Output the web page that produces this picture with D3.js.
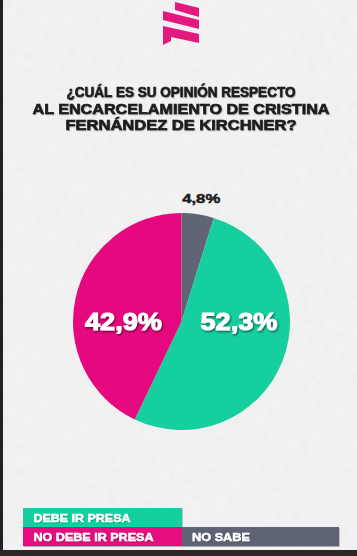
<!DOCTYPE html>
<html><head><meta charset="utf-8">
<script src="https://cdn.jsdelivr.net/npm/d3@7"></script>
<style>body{margin:0;background:#f1f1f1}svg{display:block}</style>
</head><body>
<script>
const categories = ["NO SABE", "DEBE IR PRESA", "NO DEBE IR PRESA"];
const values = [4.8, 52.3, 42.9];
const labels = ["4,8%", "52,3%", "42,9%"];
const colors = ["#5f6476", "#16cf9f", "#e6087f"];
const titleLines = ["¿CUÁL ES SU OPINIÓN RESPECTO", "AL ENCARCELAMIENTO DE CRISTINA", "FERNÁNDEZ DE KIRCHNER?"];

const W = 357, H = 556;
const svg = d3.select("body").append("svg").attr("width", W).attr("height", H);
const defs = svg.append("defs");
const f = defs.append("filter").attr("id","sh").attr("x","-20%").attr("y","-20%").attr("width","140%").attr("height","140%");
f.append("feDropShadow").attr("dx",1).attr("dy",1.3).attr("stdDeviation",0.8).attr("flood-color","#000").attr("flood-opacity",0.6);
const f2 = defs.append("filter").attr("id","sh2").attr("x","-10%").attr("y","-10%").attr("width","120%").attr("height","140%");
f2.append("feDropShadow").attr("dx",0.6).attr("dy",0.8).attr("stdDeviation",0.5).attr("flood-color","#000").attr("flood-opacity",0.35);
const nf = defs.append("filter").attr("id","noise");
nf.append("feTurbulence").attr("type","fractalNoise").attr("baseFrequency",0.12).attr("numOctaves",3).attr("result","t");
nf.append("feColorMatrix").attr("type","matrix").attr("values","0 0 0 0 0.75  0 0 0 0 0.75  0 0 0 0 0.75  0 0 0 -1.2 0.75");

svg.append("rect").attr("width",W).attr("height",H).attr("fill","#f2f2f2");
svg.append("rect").attr("width",W).attr("height",H).attr("filter","url(#noise)").attr("opacity",0.35);

// borders
svg.append("rect").attr("x",0).attr("y",0).attr("width",3).attr("height",H).attr("fill","#222");
svg.append("rect").attr("x",0).attr("y",550).attr("width",W).attr("height",6).attr("fill","#2b2725");

// logo
const logo = svg.append("g").attr("fill","#e3197f");
[
  [[175,2],[199,8],[199,17],[175,10]],
  [[163,11],[199,20],[199,29],[163,20]],
  [[163,26],[199,34],[199,43],[171,37],[171,41],[163,45]]
].forEach(p => logo.append("polygon").attr("points", p.map(d=>d.join(",")).join(" ")));

// title
const tw = [229, 297, 231];
const ty = [97, 113.5, 130];
svg.append("g").selectAll("text").data(titleLines).join("text")
  .attr("x", 181).attr("y", (d,i)=>ty[i]).attr("text-anchor","middle")
  .attr("font-family","'Liberation Sans', Arial, sans-serif").attr("font-weight",700).attr("font-size",14.5)
  .attr("fill","#1c1c1c").attr("stroke","#1c1c1c").attr("stroke-width",0.6).attr("filter","url(#sh2)")
  .attr("textLength",(d,i)=>tw[i]).attr("lengthAdjust","spacingAndGlyphs")
  .text(d=>d);

// pie
const cx = 181.5, cy = 321.5, r = 108.5;
const pie = d3.pie().sort(null).value(d=>d)(values);
const arc = d3.arc().innerRadius(0).outerRadius(r);
const g = svg.append("g").attr("transform",`translate(${cx},${cy})`);
g.selectAll("path").data(pie).join("path").attr("d",arc).attr("fill",(d,i)=>colors[i]);

// labels
const outer = d3.arc().innerRadius(r*1.18).outerRadius(r*1.18);
const labelX = [null, 239, 123.5];
pie.forEach((d,i)=>{
  if (i===0) {
    const [x,y] = outer.centroid(d);
    g.append("text").attr("x",x+0.5).attr("y",y+8.5).attr("text-anchor","middle")
      .attr("font-family","'Liberation Sans', Arial, sans-serif").attr("font-weight",700).attr("font-size",13.5)
      .attr("fill","#1c1c1c").attr("stroke","#1c1c1c").attr("stroke-width",0.5)
      .attr("textLength",38).attr("lengthAdjust","spacingAndGlyphs").text(labels[i]);
  } else {
    g.append("text").attr("x",labelX[i]-cx).attr("y",330-cy).attr("text-anchor","middle")
      .attr("font-family","'Liberation Sans', Arial, sans-serif").attr("font-weight",700).attr("font-size",24.5)
      .attr("fill","#fff").attr("stroke","#fff").attr("stroke-width",1).attr("filter","url(#sh)")
      .attr("textLength",77).attr("lengthAdjust","spacingAndGlyphs").text(labels[i]);
  }
});

// legend
const leg = [
  {i:1, x:23, y:508, w:159},
  {i:2, x:23, y:527, w:159},
  {i:0, x:182, y:527, w:157}
];
const lg = svg.append("g");
leg.forEach(l=>{
  lg.append("rect").attr("x",l.x).attr("y",l.y).attr("width",l.w).attr("height",19)
    .attr("fill",colors[l.i]).attr("filter","url(#sh2)");
});
const legW = [58, 97, 120];
leg.forEach(l=>{
  lg.append("text").attr("x",l.i===0 ? l.x+10 : l.x+10.5).attr("y",l.y+14).attr("font-family","'Liberation Sans', Arial, sans-serif")
    .attr("font-weight",700).attr("font-size",11.5).attr("fill","#fff").attr("stroke","#fff").attr("stroke-width",0.5)
    .attr("filter","url(#sh2)").attr("textLength",legW[l.i]).attr("lengthAdjust","spacingAndGlyphs")
    .text(categories[l.i]);
});
</script>
</body></html>
